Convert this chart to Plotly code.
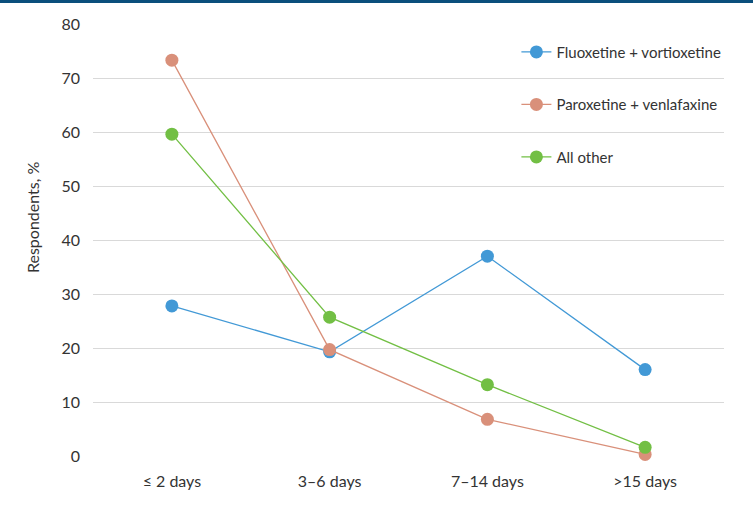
import plotly.graph_objects as go

categories = ["≤ 2 days", "3–6 days", "7–14 days", ">15 days"]
fluox_vort = [27.8, 19.3, 37.0, 16.0]
parox_venla = [73.3, 19.7, 6.8, 0.3]
all_other = [59.6, 25.7, 13.2, 1.6]
series_names = ["Fluoxetine + vortioxetine", "Paroxetine + venlafaxine", "All other"]
series_colors = ["#4299d6", "#d9907a", "#72bf44"]
y_ticks = [0, 10, 20, 30, 40, 50, 60, 70, 80]

FONT = "Lato"
fig = go.Figure()
for i, (name, vals, col) in enumerate(zip(series_names, [fluox_vort, parox_venla, all_other], series_colors)):
    fig.add_trace(go.Scatter(
        x=categories, y=vals, name=name, mode="lines+markers",
        line=dict(color=col, width=1.3),
        marker=dict(color=col, size=13),
        legendgroup=f"g{i}", cliponaxis=False,
    ))

fig.update_layout(
    width=753, height=510,
    margin=dict(l=93, r=29, t=24, b=54),
    paper_bgcolor="white", plot_bgcolor="white",
    font=dict(family=FONT, size=16, color="#333333"),
    legend=dict(
        x=0.671, y=0.973, xanchor="left", yanchor="top",
        font=dict(size=15, color="#333333"),
        tracegroupgap=30, traceorder="grouped",
        bgcolor="rgba(0,0,0,0)", itemwidth=30,
    ),
    xaxis=dict(
        type="category", range=[-0.5, 3.5], showgrid=False,
        showline=False, zeroline=False, ticks="", ticklabelstandoff=14,
        tickfont=dict(size=16, color="#333333"),
    ),
    yaxis=dict(
        range=[0, 80], tickvals=y_ticks, showgrid=True, gridcolor="#d9d9d9",
        gridwidth=1.3, zeroline=False, showline=False, ticks="",
        ticklabelstandoff=12, tickfont=dict(size=16, color="#333333"),
    ),
    annotations=[dict(
        text="Respondents, %", xref="paper", yref="paper",
        x=-0.095, y=0.551, textangle=-90, showarrow=False,
        xanchor="center", yanchor="middle",
        font=dict(size=16, color="#333333"),
    )],
    shapes=[dict(
        type="rect", xref="paper", yref="paper",
        x0=-0.2, x1=1.1, y0=1.0486, y1=1.07,
        fillcolor="#0b4f7c", line=dict(width=0), layer="above",
    )],
)

fig.write_html("out.html", config={"displayModeBar": False},
               post_script="document.body.style.margin='0';")
